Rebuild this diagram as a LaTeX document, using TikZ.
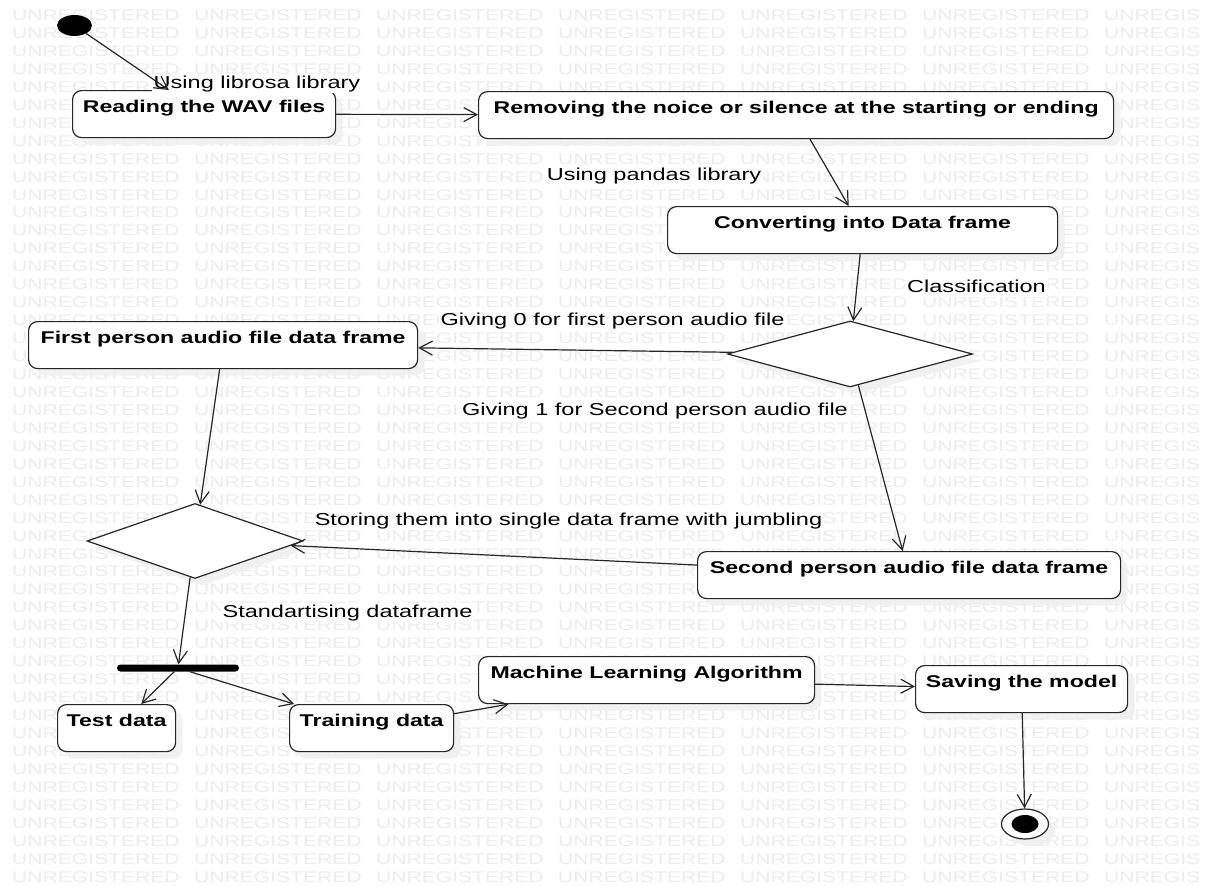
\documentclass[tikz,border=0pt]{standalone}
\usepackage{fontspec}
\setmainfont{Liberation Sans}[FakeStretch=1.36]
\usetikzlibrary{shapes.geometric,arrows.meta,shadows}
\tikzset{
  wm/.style={text=black!7, font=\fontsize{15.5}{16}\selectfont, inner sep=0, anchor=base west},
  myshadow/.style={general shadow={fill=black!6, fill opacity=0.9, draw=none, shadow xshift=7pt, shadow yshift=-7pt}},
  box/.style={draw=black!85, line width=1.2pt, fill=white, rounded corners=9pt, anchor=north west,
    inner xsep=0pt, inner ysep=0pt, text height=22pt, text depth=25pt,
    font=\fontsize{17}{20}\selectfont\bfseries, myshadow},
  lbl/.style={font=\fontsize{17.3}{20}\selectfont, fill=white, inner xsep=2pt, inner ysep=1.5pt, text depth=3pt, anchor=base},
  dia/.style={diamond, draw=black!85, line width=1.2pt, fill=white, inner sep=0pt, myshadow},
  arr/.style={draw=black!85, line width=1.2pt, -{Straight Barb[length=13pt,width=14pt]}},
}
\begin{document}
\begin{tikzpicture}[x=1pt,y=-1pt]
\useasboundingbox (0,0) rectangle (1208,886);
\fill[white] (0,0) rectangle (1208,886);
% watermark
\foreach \k in {0,...,48}{
  \foreach \j in {0,...,5}{
    \node[wm] (wm\k-\j) at ({12+182*\j},{20.5+17.95*\k}) {UNREGISTERED};
  }
  \node[wm] (wm\k-6) at (1104,{20.5+17.95*\k}) {UNREGIS};
}
% start / end
\node[ellipse, fill=black, minimum width=35pt, minimum height=21pt, inner sep=0pt] (start) at (74.5,25.5) {};
% boxes
\node[box, minimum width=263pt] (b1) at (72,90) {Reading the WAV files};
\node[box, minimum width=635pt] (b2) at (478,91) {Removing the noice or silence at the starting or ending};
\node[box, minimum width=390pt] (b3) at (667,206) {Converting into Data frame};
\node[dia, minimum width=245pt, minimum height=66pt] (d1) at (850,354) {};
\node[box, minimum width=389pt] (b4) at (28,321) {First person audio file data frame};
\node[box, minimum width=423pt] (b5) at (697,551) {Second person audio file data frame};
\node[dia, minimum width=216pt, minimum height=75pt] (d2) at (195,541) {};
\node[fill=black, rounded corners=3.5pt, minimum width=122pt, minimum height=7pt, inner sep=0pt] (bar) at (178,668) {};
\node[box, minimum width=118pt] (test) at (57,704) {Test data};
\node[box, minimum width=164pt] (train) at (289,704) {Training data};
\node[box, minimum width=336pt] (ml) at (478,656) {Machine Learning Algorithm};
\node[box, minimum width=212pt] (save) at (915,665) {Saving the model};
\node[ellipse, draw=black!85, line width=1.2pt, fill=white, minimum width=47pt, minimum height=30pt, inner sep=0pt, myshadow] (end) at (1025,824) {};
\node[ellipse, fill=black, minimum width=27pt, minimum height=18pt, inner sep=0pt] (endin) at (end.center) {};
% labels
\node[lbl] (l1) at (257,88) {Using librosa library};
\node[lbl] (l2) at (654,180) {Using pandas library};
\node[lbl] (l3) at (976.5,292) {Classification};
\node[lbl] (l4) at (612.5,325) {Giving 0 for first person audio file};
\node[lbl] (l5) at (655,415) {Giving 1 for Second person audio file};
\node[lbl] (l6) at (568.5,525) {Storing them into single data frame with jumbling};
\node[lbl] (l7) at (347.5,617) {Standartising dataframe};
% connectors
\draw[arr] (start) -- (b1);
\draw[arr] (b1) -- (b2);
\draw[arr] (b2) -- (b3);
\draw[arr] (b3) -- (d1);
\draw[arr] (d1) -- (b4);
\draw[arr] (d1) -- (b5);
\draw[arr] (b4) -- (d2);
\draw[arr] (b5) -- (d2);
\draw[arr] (d2) -- (bar);
\draw[arr] (bar) -- (test);
\draw[arr] (bar) -- (train);
\draw[arr] (train) -- (ml);
\draw[arr] (ml) -- (save);
\draw[arr] (save) -- (end);
\end{tikzpicture}
\end{document}
